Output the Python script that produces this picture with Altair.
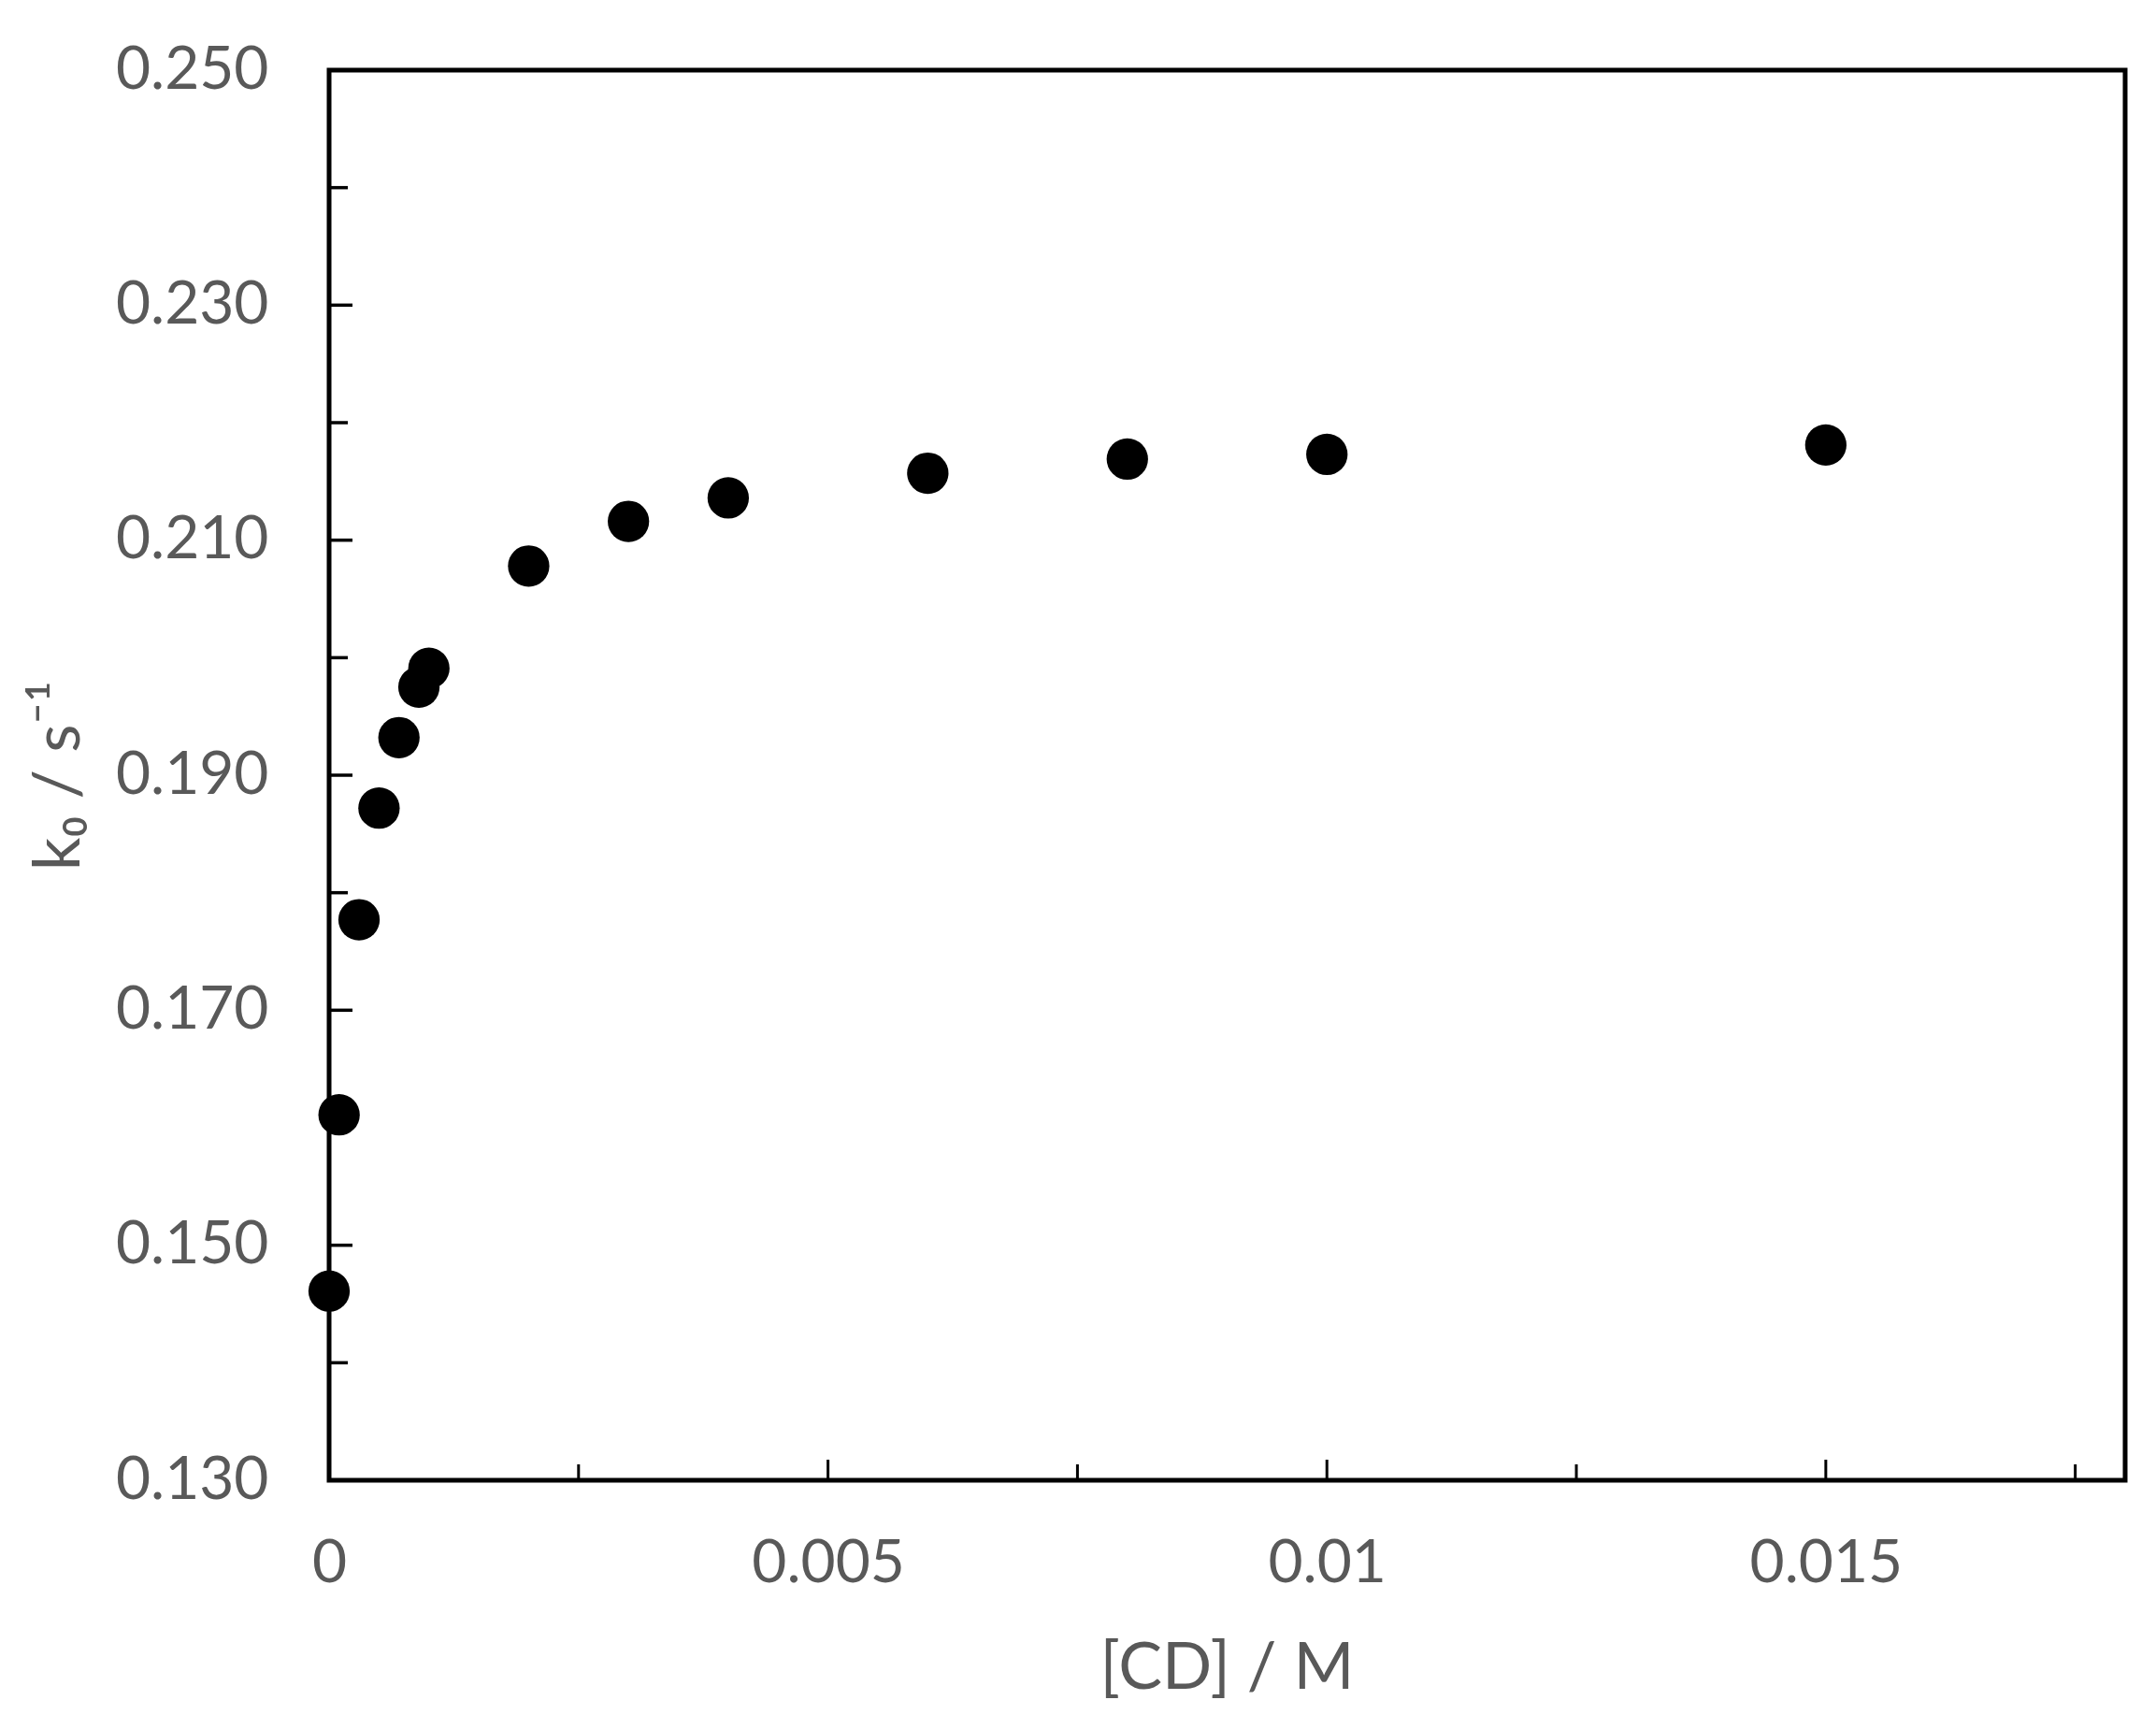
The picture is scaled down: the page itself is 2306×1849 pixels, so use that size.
import altair as alt
import pandas as pd

# Data
cd_conc = [0.0, 0.0001, 0.0003, 0.0005, 0.0007, 0.0009, 0.001, 0.002, 0.003,
           0.004, 0.006, 0.008, 0.010, 0.015]
k_obs = [0.1461, 0.1611, 0.1777, 0.1872, 0.1932, 0.1975, 0.1991, 0.2078, 0.2116,
         0.2136, 0.2157, 0.2169, 0.2173, 0.2181]

x_major_ticks = [0.0, 0.005, 0.010, 0.015]
x_minor_ticks = [0.0025, 0.0075, 0.0125, 0.0175]
y_major_ticks = [0.13, 0.15, 0.17, 0.19, 0.21, 0.23, 0.25]
y_minor_ticks = [0.14, 0.16, 0.18, 0.20, 0.22, 0.24]

x_domain = [0.0, 0.018]
y_domain = [0.13, 0.25]

FONT = "Lato"
GREY = "#595959"

df = pd.DataFrame({"cd": cd_conc, "k": k_obs})

xscale = alt.Scale(domain=x_domain, nice=False, zero=False)
yscale = alt.Scale(domain=y_domain, nice=False, zero=False)

xaxis = alt.Axis(title="[CD] / M", values=x_major_ticks, format="~g",
                 ticks=False, tickSize=0, domain=False, grid=False,
                 labelFlush=False, labelOverlap=False,
                 labelFont=FONT, labelFontSize=64, labelColor=GREY,
                 labelBaseline="middle", labelPadding=89,
                 titleFont=FONT, titleFontSize=70, titleColor=GREY,
                 titleFontWeight="normal", titleBaseline="middle",
                 titleX=960, titleY=201, titleAnchor="middle")
yaxis = alt.Axis(title="k₀ / s⁻¹", values=y_major_ticks, format=".3f",
                 ticks=False, tickSize=0, domain=False, grid=False,
                 labelFlush=False, labelOverlap=False,
                 labelFont=FONT, labelFontSize=64, labelColor=GREY,
                 labelPadding=65,
                 titleFont=FONT, titleFontSize=70, titleColor=GREY,
                 titleFontWeight="normal", titleBaseline="middle",
                 titleX=-289, titleY=754, titleAnchor="middle")

points = alt.Chart(df).mark_circle(size=1960, color="black", opacity=1,
                                   strokeWidth=0).encode(
    x=alt.X("cd:Q", scale=xscale, axis=xaxis, title="[CD] / M"),
    y=alt.Y("k:Q", scale=yscale, axis=yaxis, title="k₀ / s⁻¹"),
)

ymaj = alt.Chart(pd.DataFrame({"k": y_major_ticks})).mark_rule(
    color="black", strokeWidth=3.5).encode(
    y=alt.Y("k:Q", scale=yscale, axis=yaxis, title="k₀ / s⁻¹"),
    x=alt.value(0), x2=alt.value(25))
ymin = alt.Chart(pd.DataFrame({"k": y_minor_ticks})).mark_rule(
    color="black", strokeWidth=3.5).encode(
    y=alt.Y("k:Q", scale=yscale, axis=yaxis, title="k₀ / s⁻¹"),
    x=alt.value(0), x2=alt.value(20))
xmaj = alt.Chart(pd.DataFrame({"cd": x_major_ticks})).mark_rule(
    color="black", strokeWidth=3).encode(
    x=alt.X("cd:Q", scale=xscale, axis=xaxis, title="[CD] / M"),
    y=alt.value(1508), y2=alt.value(1486))
xmin = alt.Chart(pd.DataFrame({"cd": x_minor_ticks})).mark_rule(
    color="black", strokeWidth=3).encode(
    x=alt.X("cd:Q", scale=xscale, axis=xaxis, title="[CD] / M"),
    y=alt.value(1508), y2=alt.value(1491))

chart = alt.layer(points, ymaj, ymin, xmaj, xmin).properties(
    width=1921, height=1508,
    autosize=alt.AutoSizeParams(type="none"),
    padding={"left": 344, "top": 67, "right": 25, "bottom": 250},
    background="white",
).configure_view(stroke="black", strokeWidth=5)

chart.save("out.html", embed_options={"renderer": "svg", "actions": False})
